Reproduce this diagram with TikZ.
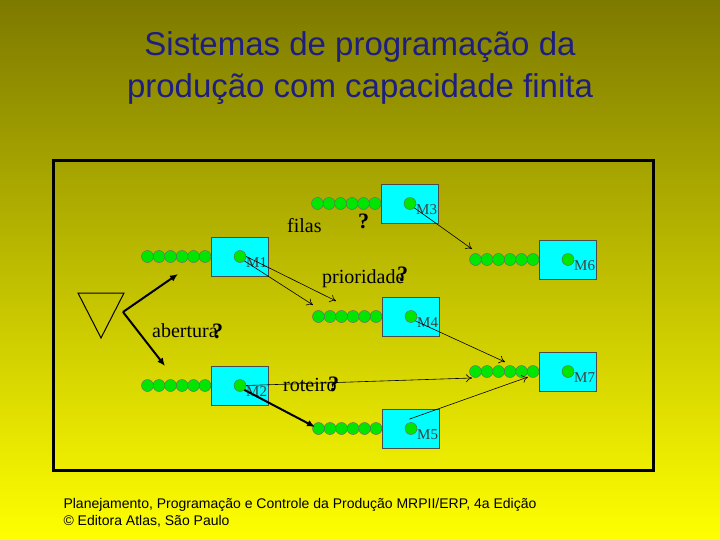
\documentclass[tikz,border=0pt]{standalone}
\usepackage{fontspec}
\usetikzlibrary{arrows.meta}
\setmainfont{Liberation Serif}
\newfontfamily\arialf{Liberation Sans}
\definecolor{mcyan}{RGB}{0,255,255}
\definecolor{mgreen}{RGB}{0,230,0}
\definecolor{mtitle}{RGB}{30,30,130}
\begin{document}
\begin{tikzpicture}[x=1pt,y=-1pt,
  mach/.style={draw=black!70,fill=mcyan,minimum width=57pt,minimum height=39pt,inner sep=0pt},
  dot/.style={circle,draw=black!60,fill=mgreen,minimum size=12pt,inner sep=0pt},
  lbl/.style={font=\fontsize{20}{20}\selectfont,inner sep=0pt},
  qm/.style={font=\fontsize{22}{22}\selectfont\bfseries,inner sep=0pt},
  mlab/.style={font=\fontsize{15}{15}\selectfont,text=black!75,inner sep=0pt},
  thin/.style={->,>={To[open,length=6pt,width=8pt]},line width=0.6pt},
  thick/.style={-{Latex[length=8pt,width=7pt]},line width=2pt}]
\useasboundingbox (0,0) rectangle (720,540);
\shade[top color={rgb,255:red,125;green,122;blue,0},bottom color={rgb,255:red,255;green,255;blue,0}] (0,0) rectangle (720,540);
\node[font=\arialf\fontsize{33}{42}\selectfont,text=mtitle,align=center] (title) at (360,68) {Sistemas de programação da\\produção com capacidade finita};
\draw[line width=3pt] (53,161) rectangle (653,470);
\newcommand\machine[4]{% name, left, top, label
  \foreach \i in {0,...,5}{\node[dot] at (#2-6-\i*11.5,#3+19.5) {};}
  \node[mach,anchor=north west] (#1) at (#2,#3) {};
  \node[dot] (#1c) at (#2+29,#3+19.5) {};
  \node[mlab,anchor=west] (#1l) at (#2+35,#3+26) {#4};
}
\machine{m3}{381}{184}{M3}
\machine{m1}{211}{237}{M1}
\machine{m4}{382}{297}{M4}
\machine{m2}{211}{366}{M2}
\machine{m5}{382}{409}{M5}
\machine{m6}{539}{240}{M6}
\machine{m7}{539}{352}{M7}
\draw[line width=1pt] (78,293) -- (124,293) -- (101,338) -- cycle;
\coordinate (ts) at (123,312);
\coordinate (a1) at (178,274); \coordinate (a2) at (165,366);
\draw[thick] (ts) -- (a1);
\draw[thick] (ts) -- (a2);
\node[lbl,anchor=base west] (filas) at (287,233) {filas};
\node[qm,anchor=base west] (q1) at (358,229) {?};
\node[lbl,anchor=base west] (prio) at (322,283) {prioridade};
\node[qm,anchor=base west] (q2) at (397,281) {?};
\node[lbl,anchor=base west] (ab) at (152,337) {abertura};
\node[qm,anchor=base west] (q3) at (212,338) {?};
\node[lbl,anchor=base west] (rot) at (283,391) {roteiro};
\node[qm,anchor=base west] (q4) at (328,391) {?};
\coordinate (t1) at (313,305); \coordinate (t2) at (336,301);
\coordinate (t3) at (472,249); \coordinate (t4) at (505,362);
\coordinate (t5) at (472,378); \coordinate (t6) at (528,377);
\coordinate (t7) at (315,427);
\draw[thin] (m1c.south east) -- (t1);
\draw[thin] (m1c.east) -- (t2);
\draw[thin] (m3c.south east) -- (t3);
\draw[thin] (m4c.south east) -- (t4);
\draw[thin] (m2c.east) -- (t5);
\draw[thin] (m5c.north east) ++(-6,-5) -- (t6);
\draw[thick] (m2c.south east) -- (t7);
\node[font=\arialf\fontsize{14}{17}\selectfont,align=left,anchor=north west] (foot) at (60,495) {Planejamento, Programação e Controle da Produção MRPII/ERP, 4a Edição\\ \textcopyright{} Editora Atlas, São Paulo};
\end{tikzpicture}
\end{document}
